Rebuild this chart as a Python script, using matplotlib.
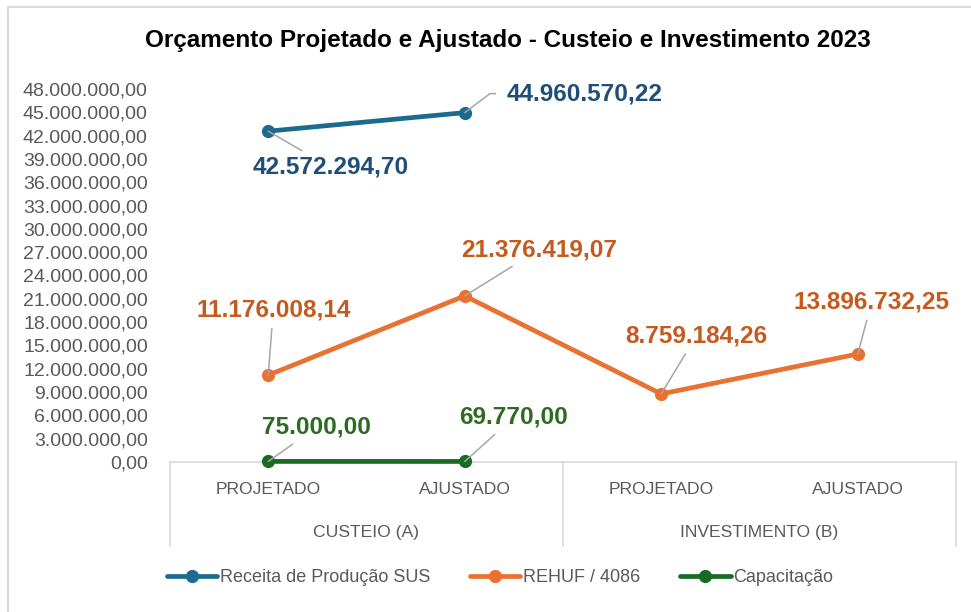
import matplotlib
matplotlib.use('Agg')
import matplotlib.pyplot as plt
from matplotlib.lines import Line2D
from matplotlib.ticker import FuncFormatter, MultipleLocator
import matplotlib.transforms as mtransforms

# categories (inner / outer)
categories = ['PROJETADO', 'AJUSTADO', 'PROJETADO', 'AJUSTADO']
groups = ['CUSTEIO (A)', 'INVESTIMENTO (B)']

# series values (None = no value)
receita_sus = [42572294.70, 44960570.22, None, None]
rehuf = [11176008.14, 21376419.07, 8759184.26, 13896732.25]
capacitacao = [75000.00, 69770.00, None, None]

series_names = ['Receita de Produção SUS', 'REHUF / 4086', 'Capacitação']
line_colors = ['#1B6A8F', '#E97132', '#196B24']
label_colors = ['#1F4E79', '#C55A1E', '#2E6B22']

# label offsets in pixels (dx, dy) for each point
label_offsets = [
    [(62, -36), (42, 19), None, None],
    [(5, 65), (74, 46), (35, 58), (14, 52)],
    [(48, 34), (49, 44), None, None],
]

NUM_FONT = ['Liberation Sans', 'DejaVu Sans']
NARROW_FONT = ['Liberation Sans Narrow', 'Liberation Sans', 'DejaVu Sans']


def br_format(v, pos=None):
    s = f'{v:,.2f}'
    return s.replace(',', 'X').replace('.', ',').replace('X', '.')


fig = plt.figure(figsize=(9.71, 6.12), dpi=100)
W, H = 971, 612
ax = fig.add_axes([170 / W, 1 - 462 / H, (956 - 170) / W, (462 - 89) / H])

x = list(range(len(categories)))
all_series = [receita_sus, rehuf, capacitacao]
for vals, name, col in zip(all_series, series_names, line_colors):
    xs = [i for i, v in zip(x, vals) if v is not None]
    ys = [v for v in vals if v is not None]
    ax.plot(xs, ys, color=col, lw=3.4, marker='o', ms=8.5, label=name,
            solid_capstyle='round', clip_on=False, zorder=3)

# data labels with leader lines
for vals, offs, lcol in zip(all_series, label_offsets, label_colors):
    for i, (v, off) in enumerate(zip(vals, offs)):
        if v is None:
            continue
        ha = 'center'
        aprops = dict(arrowstyle='-', color='#A6A6A6', lw=1.1,
                      shrinkA=3, shrinkB=0)
        if v > 44e6:
            ha = 'left'
            aprops.update(connectionstyle='angle,angleA=0,angleB=37,rad=0',
                          relpos=(0, 0.5), shrinkA=6)
        ax.annotate(br_format(v), xy=(i, v), xytext=off,
                    textcoords='offset pixels', ha=ha, va='center',
                    fontsize=17.6, fontweight='bold', color=lcol,
                    family=NUM_FONT, arrowprops=aprops, zorder=4)

ax.set_xlim(-0.5, 3.5)
ax.set_ylim(0, 48e6)
ax.yaxis.set_major_locator(MultipleLocator(3e6))
ax.yaxis.set_major_formatter(FuncFormatter(br_format))
ax.tick_params(axis='y', length=0, pad=16, labelsize=14, labelcolor='#595959')
for lab in ax.get_yticklabels():
    lab.set_family(NUM_FONT)
ax.set_xticks([])

for s in ['left', 'right', 'top']:
    ax.spines[s].set_visible(False)
ax.spines['bottom'].set_color('#D9D9D9')
ax.spines['bottom'].set_linewidth(1.2)

# multi-level category axis
trans = mtransforms.blended_transform_factory(ax.transData, ax.transAxes)
px = 1.0 / (462 - 89)
for xb in [-0.5, 1.5, 3.5]:
    ax.add_line(Line2D([xb, xb], [0, -84 * px], transform=trans,
                       color='#D9D9D9', lw=1.2, clip_on=False))
for i, c in enumerate(categories):
    ax.text(i, -28 * px, c, transform=trans, ha='center', va='center',
            fontsize=12.6, color='#595959', family=NARROW_FONT)
for g, gi in zip(groups, [0.5, 2.5]):
    ax.text(gi, -71 * px, g, transform=trans, ha='center', va='center',
            fontsize=12.6, color='#595959', family=NARROW_FONT)

fig.suptitle('Orçamento Projetado e Ajustado - Custeio e Investimento 2023',
             x=508 / W, y=1 - 40 / H, va='center', fontsize=17.5,
             fontweight='bold', color='black', family=NUM_FONT)

leg = fig.legend(loc='center', bbox_to_anchor=(500 / W, 1 - 578 / H), ncol=3,
                 frameon=False, handlelength=2.8, columnspacing=2.2,
                 handletextpad=0.15, prop={'family': NARROW_FONT, 'size': 13})
for t in leg.get_texts():
    t.set_color('#595959')

# chart border (only left and top visible in the crop)
fig.add_artist(Line2D([8 / W, 8 / W], [0, 1 - 7 / H], transform=fig.transFigure,
                      color='#D9D9D9', lw=1.5))
fig.add_artist(Line2D([8 / W, 1], [1 - 7 / H, 1 - 7 / H], transform=fig.transFigure,
                      color='#D9D9D9', lw=1.5))

fig.savefig('out.png', dpi=100, facecolor='white')
